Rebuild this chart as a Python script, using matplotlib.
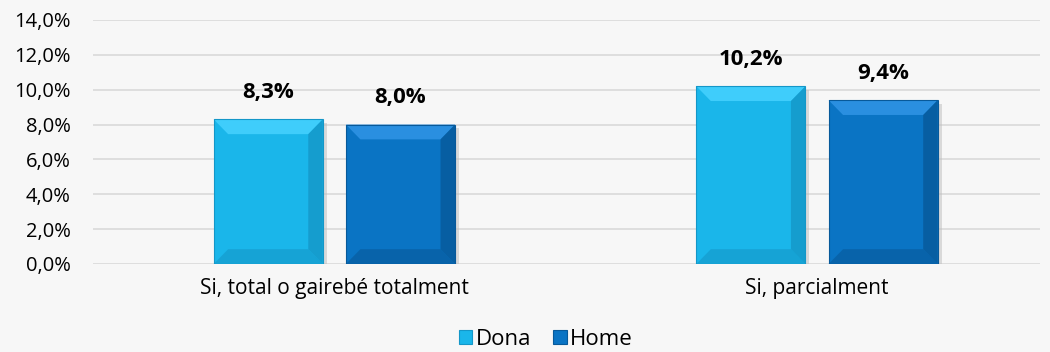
import numpy as np
import matplotlib.pyplot as plt
from matplotlib.patches import Polygon, Rectangle

plt.rcParams["font.family"] = ["Open Sans", "DejaVu Sans"]

# data
categories = ["Si, total o gairebé totalment", "Si, parcialment"]
dona = [8.3, 10.2]
home = [8.0, 9.4]
series_names = ["Dona", "Home"]
yticks = [0, 2, 4, 6, 8, 10, 12, 14]

bg = "#f7f7f7"
colors = {"Dona": ("#1ab6ea", "#3fcdfb", "#1497c8"), "Home": ("#0a74c4", "#2a8fe0", "#07599a")}

fig = plt.figure(figsize=(10.5, 3.52), dpi=100, facecolor=bg)
ax = fig.add_axes([93 / 1050, 1 - 264 / 352, (1040 - 93) / 1050, (264 - 20) / 352])
ax.set_facecolor(bg)

index = np.arange(len(categories))
bar_width = 0.226
offset = 0.137
ax.set_xlim(-0.5, 1.462)
ax.set_ylim(0, 14)

# bevel size in data units (~15 px)
bev_x = 0.03
bev_y = 0.85


def bevel_bar(x, h, cols):
    main, light, dark = cols
    x0, x1 = x - bar_width / 2, x + bar_width / 2
    # soft shadow
    ax.add_patch(Rectangle((x0 + 0.008, 0), bar_width, h - 0.2, color="#bdbdbd", alpha=0.5, zorder=2, lw=0))
    ax.add_patch(Rectangle((x0, 0), bar_width, h, color=main, zorder=3, lw=0))
    # top bevel
    ax.add_patch(Polygon([(x0, h), (x1, h), (x1 - bev_x, h - bev_y), (x0 + bev_x, h - bev_y)],
                         closed=True, color=light, zorder=4, lw=0))
    # bottom bevel
    ax.add_patch(Polygon([(x0, 0), (x1, 0), (x1 - bev_x, bev_y), (x0 + bev_x, bev_y)],
                         closed=True, color=dark, alpha=0.6, zorder=4, lw=0))
    # right bevel
    ax.add_patch(Polygon([(x1, 0), (x1, h), (x1 - bev_x, h - bev_y), (x1 - bev_x, bev_y)],
                         closed=True, color=dark, alpha=0.8, zorder=4, lw=0))
    # thin dark edges
    ax.add_patch(Rectangle((x0, 0), bar_width, h, fill=False, ec=dark, lw=0.8, zorder=5))
    ax.text(x, h + 0.95, f"{h:.1f}%".replace(".", ","), ha="center", va="bottom",
            fontsize=16, fontweight="bold", color="black", zorder=5)


for i in index:
    bevel_bar(i - offset, dona[i], colors["Dona"])
    bevel_bar(i + offset, home[i], colors["Home"])

# grid
for y in yticks:
    ax.axhline(y, color="#d9d9d9", lw=1.2, zorder=1)

for s in ax.spines.values():
    s.set_visible(False)

ax.set_yticks(yticks)
ax.set_yticklabels([f"{v:.1f}%".replace(".", ",") for v in yticks], fontsize=14.5)
ax.tick_params(axis="y", length=0, pad=16)
ax.set_xticks(index)
ax.set_xticklabels(categories, fontsize=15)
ax.tick_params(axis="x", length=0, pad=10)

# legend
handles = [Rectangle((0, 0), 1, 1, fc=colors[n][0], ec=colors[n][2], lw=0.8) for n in series_names]
fig.legend(handles, series_names, loc="lower center", bbox_to_anchor=(0.52, -0.05), ncol=2,
           frameon=False, fontsize=16, handlelength=0.6, handleheight=0.6,
           handletextpad=0.15, columnspacing=1.0)

fig.savefig("out.png", dpi=100, facecolor=bg)
